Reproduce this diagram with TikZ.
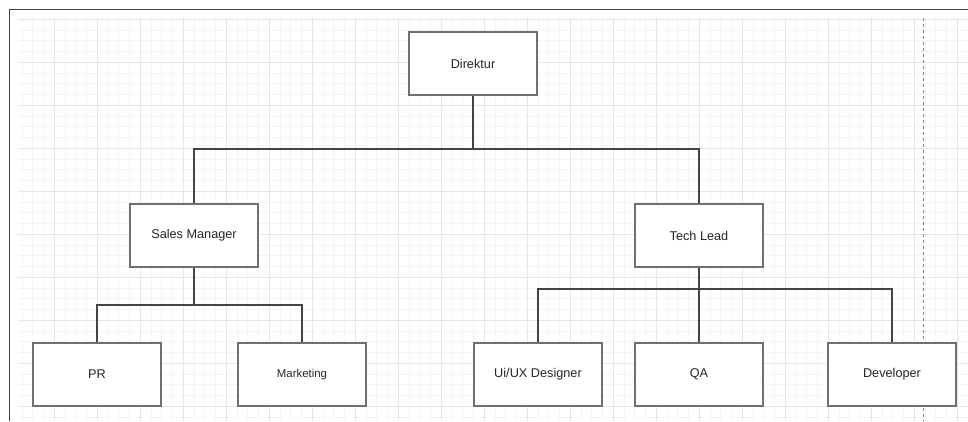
\documentclass[tikz,border=0pt]{standalone}
\usepackage{fontspec}
\setmainfont{Liberation Sans}

\definecolor{gridminor}{HTML}{F4F4F4}
\definecolor{gridmajor}{HTML}{E6E6E6}
\definecolor{boxline}{HTML}{707070}
\definecolor{linkline}{HTML}{444444}

\begin{document}
\begin{tikzpicture}[x=1pt, y=-1pt]
	\tikzstyle{unit}=[rectangle, draw=boxline, line width=2pt, fill=white, minimum width=128pt, minimum height=63pt, inner sep=0pt, text=black!85, font=\fontsize{12.7}{15}\selectfont]
\tikzstyle{connect}=[draw=linkline, line width=2pt]
\useasboundingbox[fill=white] (0,0) rectangle (968,421);
% grid
\begin{scope}
\clip (18,18) rectangle (968,421);
\foreach \i in {0,...,90} {
  \draw[gridminor, line width=0.8pt] (11.3+\i*10.75,18) -- (11.3+\i*10.75,421);
}
\foreach \i in {0,...,40} {
  \draw[gridminor, line width=0.8pt] (18,19.3+\i*10.75) -- (968,19.3+\i*10.75);
}
\foreach \i in {0,...,23} {
  \draw[gridmajor, line width=1pt] (11.3+\i*43,18) -- (11.3+\i*43,421);
}
\foreach \i in {0,...,10} {
  \draw[gridmajor, line width=1pt] (18,19.3+\i*43) -- (968,19.3+\i*43);
}
\end{scope}
\draw[black!50, dashed, line width=0.8pt] (923,18) -- (923,421);
\draw[black!75, line width=1.4pt] (9.5,421) -- (9.5,9.5) -- (968,9.5);
% chart
\node[unit] (dir) at (473,63.5) {Direktur};
\node[unit] (sales) at (194,235) {Sales Manager};
\node[unit] (tech) at (699,235.5) {Tech Lead};
\node[unit] (pr) at (97,374.5) {PR};
\node[unit, font=\fontsize{11.4}{14}\selectfont] (mkt) at (302,374.5) {Marketing};
\node[unit] (uiux) at (538,374.5) {Ui/UX Designer};
\node[unit] (qa) at (699,374.5) {QA};
\node[unit] (dev) at (892,374.5) {Developer};
\coordinate (busdir) at (473,149);
\coordinate (bussales) at (194,305);
\coordinate (bustech) at (699,289);
\draw[connect] (dir.south) -- (busdir)
      (busdir) -| (sales.north)
      (busdir) -| (tech.north);
\draw[connect] (sales.south) -- (bussales)
      (bussales) -| (pr.north)
      (bussales) -| (mkt.north);
\draw[connect] (tech.south) -- (bustech)
      (bustech) -| (uiux.north)
      (bustech) -- (qa.north)
      (bustech) -| (dev.north);
\end{tikzpicture}
\end{document}
